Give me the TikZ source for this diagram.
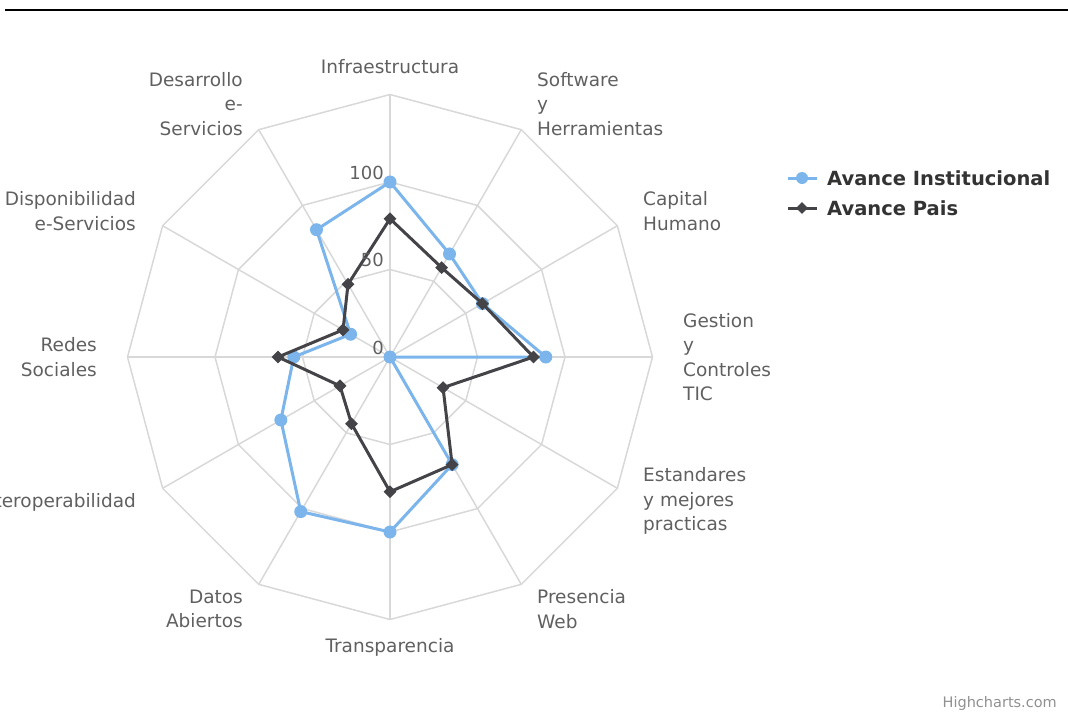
\documentclass[tikz,border=0pt]{standalone}
\usepackage{fontspec}
\setmainfont{DejaVu Sans}
\usetikzlibrary{shapes.geometric}

\definecolor{gridgray}{HTML}{D8D8D8}
\definecolor{instblue}{HTML}{7CB5EC}
\definecolor{paisdark}{HTML}{434348}
\definecolor{labelgray}{HTML}{606060}
\definecolor{legendgray}{HTML}{333333}
\definecolor{creditgray}{HTML}{909090}

\tikzset{
every picture/.style={
line join=round
}}

\begin{document}
\begin{tikzpicture}[x=1pt, y=-1pt,
gridline/.style = {draw=gridgray, line width=1.5pt},
instline/.style = {draw=instblue, line width=3pt},
paisline/.style = {draw=paisdark, line width=3pt},
instdot/.style = {circle, fill=instblue, inner sep=0pt, minimum size=13pt},
paisdot/.style = {diamond, fill=paisdark, inner sep=0pt, minimum size=13pt},
axislabel/.style = {text=labelgray, inner sep=0pt, font=\fontsize{18.5}{24.5}\selectfont},
ticklabel/.style = {text=labelgray, inner sep=0pt, font=\fontsize{18}{22}\selectfont},
legendlabel/.style = {text=legendgray, inner sep=0pt, anchor=west, font=\fontsize{19.5}{22}\selectfont\bfseries}]

\useasboundingbox (0,0) rectangle (1068,713);
\coordinate (rulel) at (5,10);
\coordinate (ruler) at (1068,10);
\draw[line width=2.5pt] (rulel) -- (ruler);

\begin{scope}[shift={(390,357)}, yscale=-1]
% grid
\foreach \a in {0,...,11}
  \draw[gridline] (0,0) -- ({90-\a*30}:262.5);
\foreach \r in {87.5,175,262.5}
  \draw[gridline] (90:\r) \foreach \a in {1,...,11}{ -- ({90-\a*30}:\r)} -- cycle;

% Avance Institucional
\foreach \v [count=\i from 0] in {100,68,61,89,0,71,100,102,72,55,26,84}
  \coordinate (b\i) at ({90-\i*30}:{\v*1.75});
\draw[instline] (b0) \foreach \i in {1,...,11}{ -- (b\i)} -- cycle;
\foreach \i in {0,...,11}
  \node[instdot] (inst\i) at (b\i) {};

% Avance Pais
\foreach \v [count=\i from 0] in {79,59,61,82,35,71,77,44,33,64,31,48}
  \coordinate (p\i) at ({90-\i*30}:{\v*1.75});
\draw[paisline] (p0) \foreach \i in {1,...,11}{ -- (p\i)} -- cycle;
\foreach \i in {0,...,11}
  \node[paisdot] (pais\i) at (p\i) {};
\end{scope}

% tick labels
\node[ticklabel, anchor=south east] (t100) at (384,180) {100};
\node[ticklabel, anchor=south east] (t50) at (384,267) {50};
\node[ticklabel, anchor=south east] (t0) at (384,355) {0};

% axis labels
\node[axislabel] (infra) at (390,67) {Infraestructura};
\node[axislabel, anchor=west, align=left] (soft) at (537,104) {Software\\y\\Herramientas};
\node[axislabel, anchor=west, align=left] (capital) at (643,211) {Capital\\Humano};
\node[axislabel, anchor=west, align=left] (gestion) at (683,357) {Gestion\\y\\Controles\\TIC};
\node[axislabel, anchor=west, align=left] (estand) at (643,501) {Estandares\\y mejores\\practicas};
\node[axislabel, anchor=west, align=left] (presencia) at (537,609) {Presencia\\Web};
\node[axislabel] (transp) at (390,647) {Transparencia};
\node[axislabel, anchor=east, align=right] (datos) at (243,609) {Datos\\Abiertos};
\node[axislabel, anchor=east] (interop) at (136,502) {Interoperabilidad};
\node[axislabel, anchor=east, align=right] (redes) at (97,357) {Redes\\Sociales};
\node[axislabel, anchor=east, align=right] (dispon) at (136,211) {Disponibilidad\\e-Servicios};
\node[axislabel, anchor=east, align=right] (desarr) at (243,104) {Desarrollo\\e-\\Servicios};

% legend
\coordinate (li0) at (788,178);
\coordinate (li1) at (817,178);
\draw[instline] (li0) -- (li1);
\node[instdot, minimum size=12pt] (linst) at (802,178) {};
\node[legendlabel] (ltinst) at (827,178) {Avance Institucional};
\coordinate (lp0) at (788,208);
\coordinate (lp1) at (817,208);
\draw[paisline] (lp0) -- (lp1);
\node[paisdot, minimum size=12pt] (lpais) at (802,208) {};
\node[legendlabel] (ltpais) at (827,208) {Avance Pais};

\node[text=creditgray, inner sep=0pt, anchor=base east, font=\fontsize{14.5}{17}\selectfont] (credit) at (1057,707) {Highcharts.com};
\end{tikzpicture}
\end{document}
